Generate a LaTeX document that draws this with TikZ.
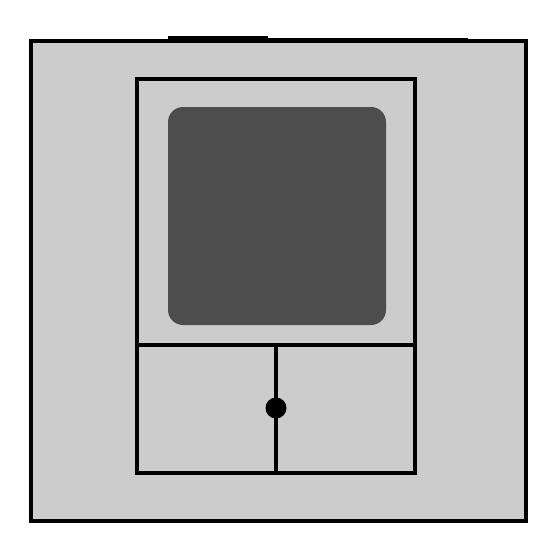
\documentclass[tikz,border=0pt]{standalone}
\usepackage{xcolor}
\usepackage{tikz}
\usetikzlibrary{positioning,calc}

\definecolor{plate}{HTML}{CCCCCC}
\definecolor{screen}{HTML}{4D4D4D}
\tikzset{frame/.style={line width=4.5pt}}

\begin{document}
\begin{tikzpicture}[x=1pt,y=-1pt]
    \useasboundingbox (0,0) rectangle (560,560);

    \coordinate (A) at (31,41);
    \coordinate (B) at (526,521);
    \coordinate (C) at (137,79);
    \coordinate (D) at (415,473);
    \coordinate (E) at (137,345);
    \coordinate (F) at (415,345);
    \coordinate (G) at (276,345);
    \coordinate (H) at (276,473);
    \coordinate (K) at (276,408);

    % outer plate
    \draw [frame, fill=plate] (A) rectangle (B);
    \draw [line width=3pt] (168,37.5) -- (268,37.5);
    \draw [line width=1.5pt] (268,38.5) -- (468,38.5);

    % display
    \fill [screen, rounded corners=15pt] (168,107) rectangle (386,325);

    % inner frame and keys
    \draw [frame] (C) rectangle (D);
    \draw [frame] (E) -- (F);
    \draw [frame] (G) -- (H);
    \fill (K) circle (10.5pt);
\end{tikzpicture}
\end{document}
